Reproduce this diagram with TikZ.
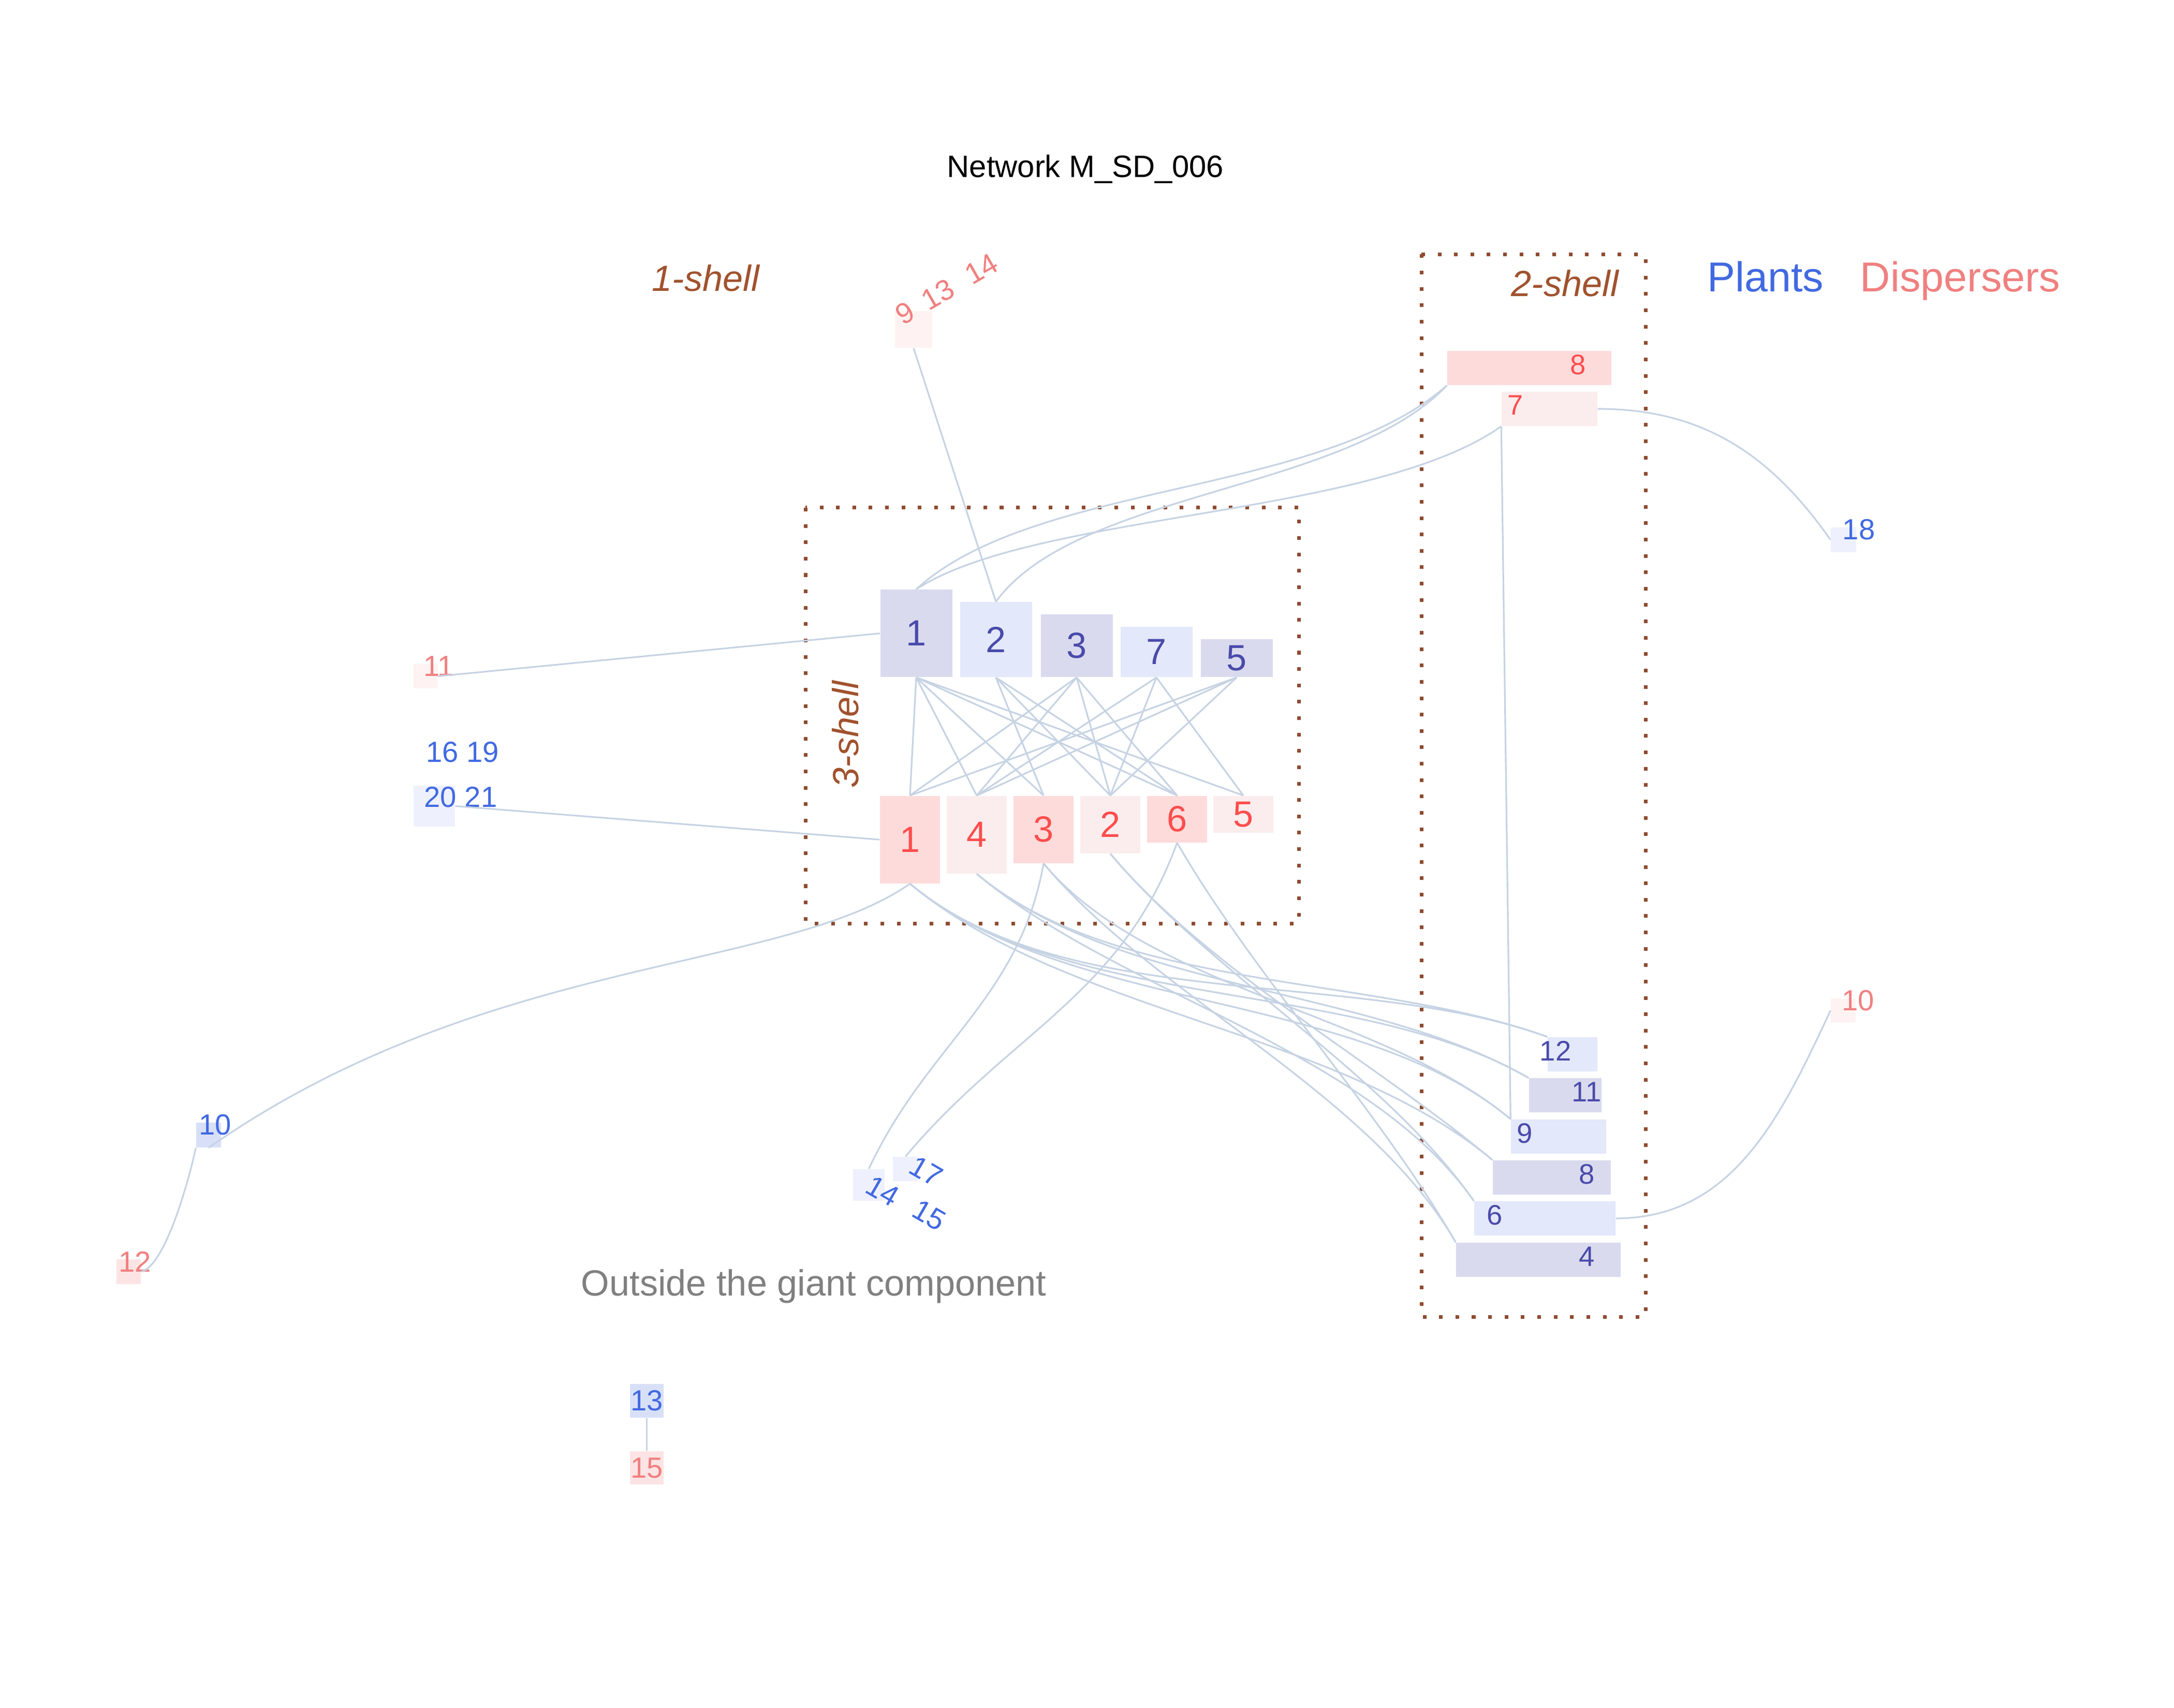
\documentclass[tikz,border=0pt]{standalone}
\usepackage{fontspec}
\setmainfont{Liberation Sans}
\definecolor{edgeblue}{HTML}{C6D3E3}
\definecolor{shellbrown}{HTML}{8E4B30}
\definecolor{shelltext}{HTML}{A0522D}
\definecolor{plantdark}{HTML}{D9DAEE}
\definecolor{plantlight}{HTML}{E3E8FA}
\definecolor{plantpale}{HTML}{EEF1FD}
\definecolor{plantmid}{HTML}{D8E0F8}
\definecolor{dispdark}{HTML}{FDDBDB}
\definecolor{displight}{HTML}{FBEDED}
\definecolor{disppale}{HTML}{FEF3F2}
\definecolor{dispmid}{HTML}{FDE4E4}
\definecolor{planttext}{HTML}{4A4AAA}
\definecolor{plantout}{HTML}{4169E1}
\definecolor{disptext}{HTML}{FF4D4D}
\definecolor{dispout}{HTML}{F08080}

\begin{document}
\begin{tikzpicture}[x=1cm,y=1cm,
    core/.style={inner sep=0pt, font=\fontsize{20}{24}\selectfont},
    pcore/.style={core, minimum width=1.39cm, anchor=south, text=planttext},
    dcore/.style={core, minimum width=1.16cm, anchor=north, text=disptext},
    shellnode/.style={inner sep=0pt, minimum height=0.66cm},
    sqbox/.style={inner sep=0pt},
    lbltwo/.style={inner sep=0pt, font=\fontsize{15.5}{18}\selectfont},
    lblone/.style={inner sep=0pt, font=\fontsize{16}{19}\selectfont},
    link/.style={draw=edgeblue, line width=0.9pt},
    shellbox/.style={draw=shellbrown, line width=2pt, dash pattern=on 2pt off 7pt},
    shelllbl/.style={inner sep=0pt, text=shelltext, font=\fontsize{20}{24}\selectfont\itshape}]
\useasboundingbox (0,0) rectangle (42,33);
\fill[white] (0,0) rectangle (42,33);

% shell frames
\draw[shellbox] (15.56,23.19) rectangle (25.09,15.15);
\draw[shellbox] (27.46,28.085) rectangle (31.79,7.55);

% titles
\node[inner sep=0pt, anchor=base, font=\fontsize{17}{20}\selectfont] (title) at (20.97,29.57) {Network M\_SD\_006};
\node[shelllbl, anchor=base west] (shell1) at (12.59,27.37) {1-shell};
\node[shelllbl, anchor=base west] (shell2) at (29.19,27.27) {2-shell};
\node[shelllbl, rotate=90] (shell3) at (16.33,18.81) {3-shell};
\node[inner sep=0pt, anchor=base west, text=plantout, font=\fontsize{23}{27}\selectfont] (legp) at (32.98,27.36) {Plants};
\node[inner sep=0pt, anchor=base west, text=dispout, font=\fontsize{23}{27}\selectfont] (legd) at (35.93,27.36) {Dispersers};
\node[inner sep=0pt, anchor=base west, text=gray, font=\fontsize{20}{24}\selectfont] (outside) at (11.22,7.96) {Outside the giant component};

% 3-shell plants
\node[pcore, fill=plantdark, minimum height=1.69cm] (p1) at (17.70,19.91) {1};
\node[pcore, fill=plantlight, minimum height=1.45cm] (p2) at (19.24,19.91) {2};
\node[pcore, fill=plantdark, minimum height=1.21cm] (p3) at (20.80,19.91) {3};
\node[pcore, fill=plantlight, minimum height=0.97cm] (p7) at (22.34,19.91) {7};
\node[pcore, fill=plantdark, minimum height=0.73cm] (p5) at (23.89,19.91) {5};

% 3-shell dispersers
\node[dcore, fill=dispdark, minimum height=1.69cm] (d1) at (17.58,17.63) {1};
\node[dcore, fill=displight, minimum height=1.50cm] (d4) at (18.87,17.63) {4};
\node[dcore, fill=dispdark, minimum height=1.30cm] (d3) at (20.16,17.63) {3};
\node[dcore, fill=displight, minimum height=1.11cm] (d2) at (21.45,17.63) {2};
\node[dcore, fill=dispdark, minimum height=0.90cm] (d6) at (22.74,17.63) {6};
\node[dcore, fill=displight, minimum height=0.71cm] (d5) at (24.02,17.63) {5};

% 2-shell dispersers
\node[shellnode, fill=dispdark, minimum width=3.17cm] (d8) at (29.545,25.89) {};
\node[shellnode, fill=displight, minimum width=1.85cm] (d7) at (29.935,25.10) {};
\node[lbltwo, text=disptext] (d8l) at (30.49,25.95) {8};
\node[lbltwo, text=disptext] (d7l) at (29.28,25.17) {7};

% 2-shell plants
\node[shellnode, fill=plantlight, minimum width=0.96cm] (p12) at (30.38,12.63) {};
\node[shellnode, fill=plantdark, minimum width=1.40cm] (p11) at (30.24,11.835) {};
\node[shellnode, fill=plantlight, minimum width=1.84cm] (p9) at (30.11,11.04) {};
\node[shellnode, fill=plantdark, minimum width=2.28cm] (p8) at (29.98,10.25) {};
\node[shellnode, fill=plantlight, minimum width=2.73cm] (p6) at (29.845,9.46) {};
\node[shellnode, fill=plantdark, minimum width=3.18cm] (p4) at (29.72,8.66) {};
\node[lbltwo, text=planttext] (p12l) at (30.05,12.69) {12};
\node[lbltwo, text=planttext] (p11l) at (30.65,11.90) {11};
\node[lbltwo, text=planttext] (p9l) at (29.46,11.10) {9};
\node[lbltwo, text=planttext] (p8l) at (30.655,10.31) {8};
\node[lbltwo, text=planttext] (p6l) at (28.875,9.52) {6};
\node[lbltwo, text=planttext] (p4l) at (30.655,8.72) {4};

% 1-shell and outside
\node[sqbox, fill=disppale, minimum width=0.72cm, minimum height=0.71cm] (d9) at (17.65,26.635) {};
\node[lblone, text=dispout, rotate=30] (d9l) at (17.48,26.95) {9};
\node[lblone, text=dispout, rotate=30] (d13l) at (18.12,27.31) {13};
\node[lblone, text=dispout, rotate=30] (d14l) at (18.96,27.805) {14};

\node[sqbox, fill=disppale, minimum width=0.47cm, minimum height=0.47cm] (d11) at (8.225,19.935) {};
\node[lblone, text=dispout] (d11l) at (8.48,20.13) {11};

\node[sqbox, fill=plantpale, minimum width=0.80cm, minimum height=0.79cm] (p20) at (8.39,17.425) {};
\node[lblone, text=plantout] (p16l) at (8.935,18.47) {16 19};
\node[lblone, text=plantout] (p20l) at (8.90,17.60) {20 21};

\node[sqbox, fill=plantpale, minimum width=0.49cm, minimum height=0.48cm] (p18) at (35.615,22.57) {};
\node[lblone, text=plantout] (p18l) at (35.91,22.765) {18};

\node[sqbox, fill=disppale, minimum width=0.48cm, minimum height=0.47cm] (d10) at (35.61,13.475) {};
\node[lblone, text=dispout] (d10l) at (35.895,13.665) {10};

\node[sqbox, fill=plantmid, minimum width=0.48cm, minimum height=0.48cm] (p10) at (4.03,11.07) {};
\node[lblone, text=plantout] (p10l) at (4.155,11.265) {10};

\node[sqbox, fill=dispmid, minimum width=0.47cm, minimum height=0.48cm] (d12) at (2.485,8.43) {};
\node[lblone, text=dispout] (d12l) at (2.61,8.625) {12};

\node[sqbox, fill=plantpale, minimum width=0.61cm, minimum height=0.61cm] (p14) at (16.785,10.105) {};
\node[sqbox, fill=plantpale, minimum width=0.49cm, minimum height=0.47cm] (p17) at (17.495,10.415) {};
\node[lblone, text=plantout, rotate=-30] (p14l) at (17.05,9.99) {14};
\node[lblone, text=plantout, rotate=-30] (p17l) at (17.89,10.37) {17};
\node[lblone, text=plantout, rotate=-30] (p15l) at (17.95,9.52) {15};

\node[sqbox, lblone, fill=plantmid, text=plantout, minimum width=0.65cm, minimum height=0.65cm] (p13) at (12.495,5.935) {13};
\node[sqbox, lblone, fill=dispmid, text=dispout, minimum width=0.65cm, minimum height=0.64cm] (d15) at (12.495,4.64) {15};

% core links
\draw[link] (p1.south) -- (d1.north);
\draw[link] (p1.south) -- (d4.north);
\draw[link] (p1.south) -- (d3.north);
\draw[link] (p1.south) -- (d6.north);
\draw[link] (p1.south) -- (d5.north);
\draw[link] (p2.south) -- (d3.north);
\draw[link] (p2.south) -- (d2.north);
\draw[link] (p2.south) -- (d6.north);
\draw[link] (p3.south) -- (d1.north);
\draw[link] (p3.south) -- (d4.north);
\draw[link] (p3.south) -- (d2.north);
\draw[link] (p3.south) -- (d6.north);
\draw[link] (p7.south) -- (d4.north);
\draw[link] (p7.south) -- (d2.north);
\draw[link] (p7.south) -- (d5.north);
\draw[link] (p5.south) -- (d1.north);
\draw[link] (p5.south) -- (d4.north);
\draw[link] (p5.south) -- (d2.north);

% links to the 2-shell
\draw[link] (p1.north) .. controls +(2.3,2.1) and +(-2.46,-2.16) .. (d8.south west);
\draw[link] (p1.north) .. controls +(2.3,1.5) and +(-2.51,-1.77) .. (d7.south west);
\draw[link] (p2.north) .. controls +(1.56,2.14) and +(-1.96,-2.06) .. (d8.south west);
\draw[link] (d7.south west) -- (p9.north west);
\draw[link] (d1.south) to[out=-40,in=160,looseness=0.8] (p12.north west);
\draw[link] (d1.south) to[out=-40,in=150,looseness=0.8] (p11.north west);
\draw[link] (d1.south) to[out=-40,in=140,looseness=0.8] (p9.north west);
\draw[link] (d1.south) to[out=-40,in=140,looseness=0.8] (p8.north west);
\draw[link] (d4.south) to[out=-40,in=160,looseness=0.8] (p12.north west);
\draw[link] (d4.south) to[out=-40,in=150,looseness=0.8] (p11.north west);
\draw[link] (d4.south) to[out=-40,in=125,looseness=0.8] (p6.north west);
\draw[link] (d3.south) to[out=-50,in=140,looseness=0.8] (p9.north west);
\draw[link] (d3.south) to[out=-50,in=120,looseness=0.8] (p4.north west);
\draw[link] (d2.south) to[out=-50,in=140,looseness=0.8] (p8.north west);
\draw[link] (d2.south) to[out=-50,in=125,looseness=0.8] (p6.north west);
\draw[link] (d6.south) to[out=-60,in=120,looseness=0.8] (p4.north west);

% links to the 1-shell
\draw[link] (d11.east) -- (p1.west);
\draw[link] (p20.east) -- (d1.west);
\draw[link] (d9.south) -- (p2.north);
\draw[link] (d7.east) to[out=0,in=125] (p18.west);
\draw[link] (p6.east) to[out=0,in=-115] (d10.west);
\draw[link] (d1.south) .. controls +(215:3) and +(35:6.5) .. (p10.south);
\draw[link] (p10.south west) .. controls +(-0.15,-0.7) and +(0.45,0.1) .. (d12.east);
\draw[link] (d3.south) to[out=-100,in=65] (p14.north);
\draw[link] (d6.south) to[out=-110,in=50] (p17.north);
\draw[link] (p13.south) -- (d15.north);
\end{tikzpicture}
\end{document}
